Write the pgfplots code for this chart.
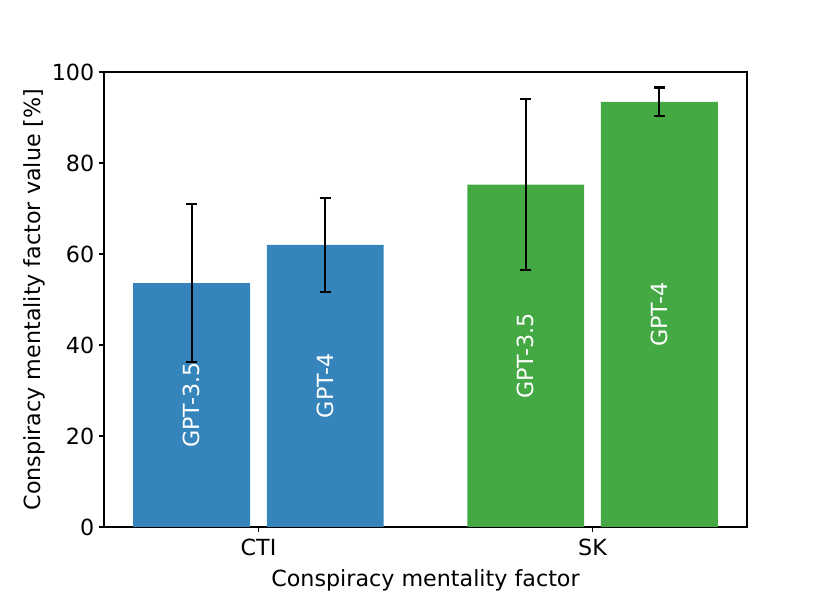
\documentclass[border=0pt]{standalone}
\usepackage{pgfplots}
\pgfplotsset{compat=1.18}
\usepackage{fontspec}
\setmainfont{DejaVu Sans}
\definecolor{barblue}{HTML}{3585BC}
\definecolor{bargreen}{HTML}{44A943}
\begin{document}
\begin{tikzpicture}
\useasboundingbox (-74.88pt,-47.52pt) rectangle (522.72pt,379.44pt);
\begin{axis}[
  at={(0,0)}, anchor=south west,
  scale only axis, width=462.96pt, height=327.6pt,
  xmin=-0.4625, xmax=1.4625, ymin=0, ymax=100,
  xtick={0,1}, xticklabels={CTI,SK},
  ytick={0,20,40,60,80,100},
  tick pos=left, tick align=outside,
  major tick length=3.5pt,
  every tick/.style={black, line width=0.8pt},
  axis line style={line width=0.8pt},
  font=\fontsize{16}{19}\selectfont,
  ticklabel style={font=\fontsize{16}{19}\selectfont},
  xticklabel style={yshift=-1.5pt},
  /pgf/number format/assume math mode=true,
  xlabel={Conspiracy mentality factor},
  ylabel={Conspiracy mentality factor value [\%]},
  xlabel style={font=\fontsize{16}{19}\selectfont, yshift=-3pt},
  ylabel style={font=\fontsize{16}{19}\selectfont, yshift=-2pt},
  ybar, bar width=0.35, bar shift=0pt,
  error bars/error bar style={line width=1.5pt, black},
  error bars/error mark options={rotate=90, mark size=4pt, line width=1.5pt, black},
]
\addplot[fill=barblue, draw=none, error bars/.cd, y dir=both, y explicit]
  coordinates {(-0.2,53.6) +- (0,17.3) (0.2,62.0) +- (0,10.3)};
\addplot[fill=bargreen, draw=none, error bars/.cd, y dir=both, y explicit]
  coordinates {(0.8,75.25) +- (0,18.75) (1.2,93.45) +- (0,3.15)};
\node[white, rotate=90, font=\fontsize{16}{19}\selectfont] at (axis cs:-0.2,26.8) {GPT-3.5};
\node[white, rotate=90, font=\fontsize{16}{19}\selectfont] at (axis cs:0.2,31.0) {GPT-4};
\node[white, rotate=90, font=\fontsize{16}{19}\selectfont] at (axis cs:0.8,37.6) {GPT-3.5};
\node[white, rotate=90, font=\fontsize{16}{19}\selectfont] at (axis cs:1.2,46.7) {GPT-4};
\end{axis}
\end{tikzpicture}
\end{document}
